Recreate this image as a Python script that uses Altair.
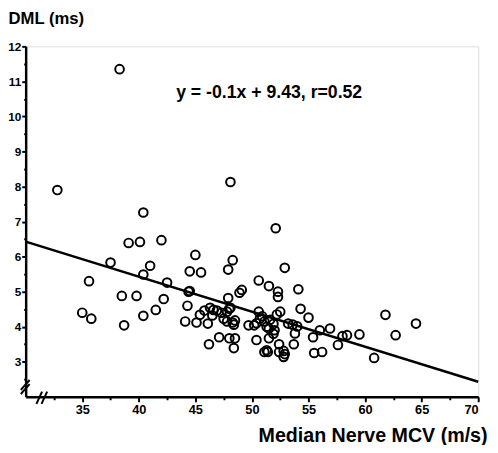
import altair as alt
import pandas as pd

# ---- data ----
mcv = [32.8, 38.3, 40.4, 48.1, 52.1, 45.0, 48.3, 47.9, 44.5, 45.5,
       52.9, 50.6, 51.5, 52.3, 52.3, 54.1, 48.9, 49.1, 47.9,
       35.0, 35.8, 35.6, 37.5, 38.5, 38.7, 39.1, 40.1, 39.8, 40.4,
       41.0, 40.4, 41.5, 42.2, 42.0, 42.5, 44.5, 44.4, 44.3, 44.1,
       45.1, 46.1, 46.2, 47.1, 48.0, 48.5, 48.4,
       45.4, 45.8, 46.3, 46.6, 46.9, 46.5, 47.3, 47.5, 47.8, 48.0,
       48.1, 47.8, 48.3, 48.4, 48.5,
       49.7, 50.2, 50.4, 50.6, 50.7, 50.9, 51.1, 51.3, 51.5, 51.6,
       51.9, 52.2, 52.5, 52.0, 53.2, 53.6, 54.0, 54.3, 55.0,
       50.4, 51.5, 51.9, 52.4, 53.7, 53.8, 51.1, 51.4, 51.3, 52.4,
       52.8, 52.8, 52.9,
       55.4, 55.5, 56.2, 56.0, 56.9, 57.6, 58.0, 58.4, 59.5, 60.8,
       61.8, 62.7, 64.5]
dml = [7.90, 11.35, 7.26, 8.13, 6.81, 6.05, 5.90, 5.63, 5.58, 5.55,
       5.68, 5.32, 5.16, 5.00, 4.85, 5.07, 4.97, 5.05, 4.82,
       4.40, 4.23, 5.30, 5.83, 4.88, 4.04, 6.39, 6.42, 4.88, 5.49,
       5.74, 4.31, 4.48, 4.79, 6.47, 5.26, 5.02, 5.00, 4.60, 4.15,
       4.12, 4.09, 3.50, 3.70, 3.67, 3.67, 3.39,
       4.34, 4.46, 4.54, 4.48, 4.46, 4.32, 4.40, 4.23, 4.43, 4.51,
       4.54, 4.15, 4.12, 4.06, 4.18,
       4.04, 4.04, 4.10, 4.43, 4.23, 4.30, 4.15, 4.00, 3.95, 4.20,
       4.08, 4.35, 4.43, 3.90, 4.09, 4.06, 4.01, 4.51, 4.26,
       3.62, 3.67, 3.80, 3.50, 3.50, 3.81, 3.28, 3.28, 3.33, 3.28,
       3.31, 3.14, 3.22,
       3.70, 3.25, 3.28, 3.90, 3.95, 3.48, 3.73, 3.76, 3.78, 3.11,
       4.34, 3.76, 4.09]

# regression line y = -0.1x + 9.43 (end points over the axis range)
line_mcv = [30, 70]
line_dml = [6.43, 2.43]

equation = "y = -0.1x + 9.43, r=0.52"
eq_pos_x = [43.3]
eq_pos_y = [10.67]

x_major = [35, 40, 45, 50, 55, 60, 65, 70]
y_major = [3, 4, 5, 6, 7, 8, 9, 10, 11, 12]
x_minor = [32.5, 37.5, 42.5, 47.5, 52.5, 57.5, 62.5, 67.5]
y_minor = [2.5, 3.5, 4.5, 5.5, 6.5, 7.5, 8.5, 9.5, 10.5, 11.5]

# axis-break slashes (in data units)
brk_x = [29.57, 29.57, 30.95, 31.40]
brk_y = [2.20, 2.08, 1.80, 1.80]
brk_x2 = [30.35, 30.35, 31.45, 31.90]
brk_y2 = [2.48, 2.36, 2.15, 2.15]

FONT = "Liberation Sans"

points = pd.DataFrame({"mcv": mcv, "dml": dml})
line_df = pd.DataFrame({"mcv": line_mcv, "dml": line_dml})
eq_df = pd.DataFrame({"mcv": eq_pos_x, "dml": eq_pos_y, "label": [equation]})
brk_df = pd.DataFrame({"x": brk_x, "y": brk_y, "x2": brk_x2, "y2": brk_y2})

xscale = alt.Scale(domain=[30, 70], nice=False, zero=False)
yscale = alt.Scale(domain=[2, 12], nice=False, zero=False)

xaxis = alt.Axis(
    values=x_major,
    labelOverlap=False,
    grid=False,
    domainColor="black", domainWidth=2.5,
    tickColor="black", tickWidth=2, tickSize=5,
    labelFont=FONT, labelFontSize=13, labelFontWeight="bold", labelColor="black",
    labelPadding=2,
    title="Median Nerve MCV (m/s)",
    titleFont=FONT, titleFontSize=20, titleFontWeight="bold", titleColor="black",
    titleAlign="right", titleBaseline="middle", titleX=470, titleY=40,
    orient="bottom",
)
yaxis = alt.Axis(
    values=y_major,
    labelOverlap=False,
    grid=False,
    domainColor="black", domainWidth=2.5,
    tickColor="black", tickWidth=2, tickSize=4,
    labelFont=FONT, labelFontSize=12, labelFontWeight="bold", labelColor="black",
    labelPadding=1,
    title="DML (ms)",
    titleFont=FONT, titleFontSize=17, titleFontWeight="bold", titleColor="black",
    titleAngle=0, titleAlign="left", titleBaseline="middle", titleX=-18, titleY=-28,
    orient="left",
)

xminor_axis = alt.Axis(
    values=x_minor, labels=False, domain=False, grid=False,
    tickColor="black", tickWidth=2, tickSize=3, title="", orient="bottom",
)
yminor_axis = alt.Axis(
    values=y_minor, labels=False, domain=False, grid=False,
    tickColor="black", tickWidth=2, tickSize=2, title="", orient="left",
)

pts = alt.Chart(points).mark_point(
    shape="circle", filled=False, color="black", strokeWidth=2, size=78, opacity=1
).encode(
    x=alt.X("mcv:Q", scale=xscale, axis=xaxis),
    y=alt.Y("dml:Q", scale=yscale, axis=yaxis),
)

minor = alt.Chart(line_df).mark_point(opacity=0).encode(
    x=alt.X("mcv:Q", scale=xscale, axis=xminor_axis),
    y=alt.Y("dml:Q", scale=yscale, axis=yminor_axis),
)

reg = alt.Chart(line_df).mark_line(color="black", strokeWidth=2.5).encode(
    x=alt.X("mcv:Q", scale=xscale, axis=xaxis),
    y=alt.Y("dml:Q", scale=yscale, axis=yaxis),
)

eq = alt.Chart(eq_df).mark_text(
    align="left", baseline="middle", font=FONT, fontSize=18, fontWeight="bold", color="black"
).encode(
    x=alt.X("mcv:Q", scale=xscale, axis=xaxis),
    y=alt.Y("dml:Q", scale=yscale, axis=yaxis),
    text="label:N",
)

brk = alt.Chart(brk_df).mark_rule(color="black", strokeWidth=2).encode(
    x=alt.X("x:Q", scale=xscale, axis=xaxis),
    y=alt.Y("y:Q", scale=yscale, axis=yaxis),
    x2="x2:Q",
    y2="y2:Q",
)

main = alt.layer(pts, reg, eq, brk)

chart = alt.layer(main, minor).resolve_axis(
    x="independent", y="independent"
).properties(
    width=461, height=357,
    autosize=alt.AutoSizeParams(type="none"),
    padding={"left": 18, "top": 35, "right": 12, "bottom": 45},
).configure_axis(
    labelOverlap=False
).configure_view(stroke=None).configure(background="white")

chart.save("out.html", embed_options={"renderer": "svg", "actions": False})
